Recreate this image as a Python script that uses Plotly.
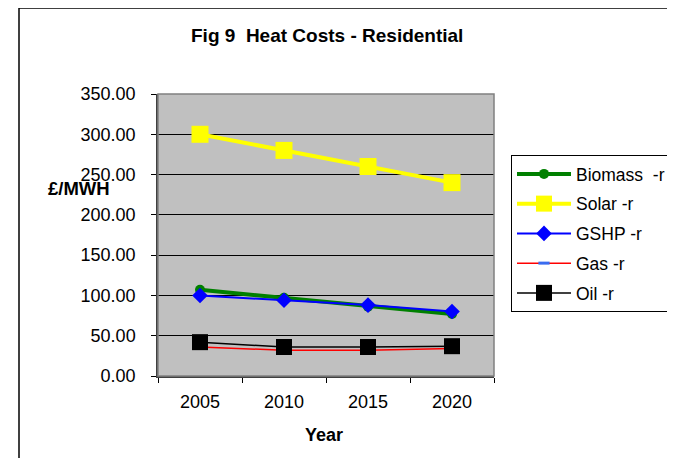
import plotly.graph_objects as go

years = ["2005", "2010", "2015", "2020"]
biomass = [107, 97, 86, 77]
solar = [300, 280, 260, 240]
gshp = [100, 94, 88, 80]
gas = [36, 32, 32, 34]
oil = [42, 36, 36, 37]

# page body has an 8px margin, so the figure starts at (8, 8) in the window
OFF = 8
W, H = 675 - OFF, 466 - 2 * OFF
# plot area in window pixels: x 158..494, y 94..376
PX0, PX1, PY0, PY1 = 158, 494, 94, 376
L, R, T, B = PX0 - OFF, W - (PX1 - OFF), PY0 - OFF, H - (PY1 - OFF)
pw, ph = PX1 - PX0, PY1 - PY0

def px_x(x):
    return (x - PX0) / pw

def px_y(y):
    return (PY1 - y) / ph

FONT = "Liberation Sans, Arial, sans-serif"

fig = go.Figure()
series = [
    ("Biomass\u00a0 -r", biomass, "#008000", 4, "circle", 10, None),
    ("Solar -r", solar, "#FFFF00", 4, "square", 17, None),
    ("GSHP -r", gshp, "#0000FF", 2, "diamond", 12, None),
    ("Gas -r", gas, "#FF0000", 1.5, "line-ew", 8, "#3A6CF0"),
    ("Oil -r", oil, "#000000", 1.5, "square", 16, None),
]
for i, (name, vals, col, lw, sym, ms, mcol) in enumerate(series):
    if sym == "line-ew":
        marker = dict(symbol=sym, size=ms, line=dict(color=mcol, width=3))
    else:
        marker = dict(symbol=sym, size=ms, color=col, line=dict(width=0))
    fig.add_trace(go.Scatter(
        x=years, y=vals, name=name, mode="lines+markers",
        line=dict(color=col, width=lw), marker=marker,
        legendgroup=str(i),
    ))

fig.update_layout(
    width=W, height=H,
    margin=dict(l=L, r=R, t=T, b=B, autoexpand=False),
    paper_bgcolor="white",
    plot_bgcolor="#C0C0C0",
    font=dict(family=FONT, size=18, color="black"),
    showlegend=True,
    legend=dict(
        x=px_x(511), y=px_y(155), xanchor="left", yanchor="top",
        bordercolor="black", borderwidth=1, bgcolor="white",
        font=dict(size=17.5), itemwidth=54, tracegroupgap=4,
        traceorder="grouped",
    ),
    xaxis=dict(
        type="category", range=[-0.5, 3.5], tickson="boundaries",
        ticks="outside", ticklen=5, tickcolor="black",
        showline=True, linecolor="#404040", linewidth=1.5,
        showgrid=False, tickfont=dict(size=18), ticklabelstandoff=9,
    ),
    yaxis=dict(
        range=[0, 350], dtick=50, tickformat=".2f",
        ticks="outside", ticklen=5, tickcolor="black",
        showline=True, linecolor="#404040", linewidth=1.5,
        showgrid=True, gridcolor="black", gridwidth=1,
        zeroline=False, tickfont=dict(size=18), ticklabelstandoff=12,
    ),
    annotations=[
        dict(text="<b>Fig 9  Heat Costs - Residential</b>", xref="paper", yref="paper",
             x=px_x(327), y=px_y(35), xanchor="center", yanchor="middle",
             showarrow=False, font=dict(size=19)),
        dict(text="<b>£/MWH</b>", xref="paper", yref="paper",
             x=px_x(79), y=px_y(188), xanchor="center", yanchor="middle",
             showarrow=False, font=dict(size=18.5)),
        dict(text="<b>Year</b>", xref="paper", yref="paper",
             x=px_x(324), y=px_y(435), xanchor="center", yanchor="middle",
             showarrow=False, font=dict(size=18)),
    ],
    shapes=[
        dict(type="rect", xref="paper", yref="paper", x0=0, x1=1, y0=0, y1=1,
             line=dict(color="#808080", width=1.5), layer="above"),
        # outer chart frame: only the top and left edges fall inside the window
        dict(type="line", xref="paper", yref="paper",
             x0=px_x(19), x1=px_x(700), y0=px_y(8), y1=px_y(8),
             line=dict(color="black", width=1.5)),
        dict(type="line", xref="paper", yref="paper",
             x0=px_x(19), x1=px_x(19), y0=px_y(8), y1=px_y(500),
             line=dict(color="black", width=1.5)),
    ],
)

fig.write_html("out.html")
